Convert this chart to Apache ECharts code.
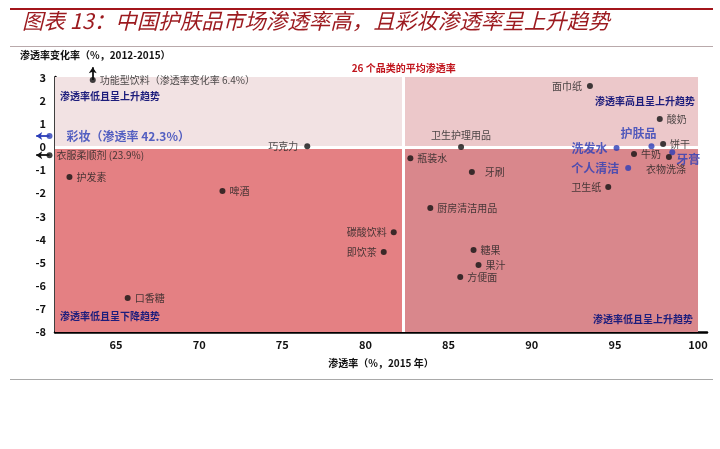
<!DOCTYPE html>
<html>
<head>
<meta charset="utf-8">
<title>中国护肤品市场渗透率</title>
<script src="https://cdn.jsdelivr.net/npm/echarts@6/dist/echarts.min.js"></script>
<style>
    html, body { margin: 0; padding: 0; background: #fff; }
    #penetration_chart { width: 720px; height: 449px; }
</style>
</head>
<body>
<div id="penetration_chart"></div>
<script>

// Chart data
// ------------------------------

var categories = [
    '功能型饮料', '彩妆', '衣服柔顺剂', '巧克力', '护发素', '啤酒', '口香糖',
    '碳酸饮料', '即饮茶', '厨房清洁用品', '糖果', '果汁', '方便面',
    '面巾纸', '卫生护理用品', '瓶装水', '牙刷', '卫生纸', '酸奶', '护肤品',
    '饼干', '洗发水', '牛奶', '牙膏', '衣物洗涤', '个人清洁'
];

// Penetration 2015 (%), as plotted (off-scale items sit at the edge)
var penetration2015 = [
    63.6, 61.0, 61.0, 76.5, 62.2, 71.4, 65.7,
    81.7, 81.1, 83.9, 86.5, 86.8, 85.7,
    93.5, 85.75, 82.7, 86.4, 94.6, 97.7, 97.2,
    97.9, 95.1, 96.15, 98.45, 98.25, 95.8
];

// Penetration change 2012-2015 (%)
var penetrationChange = [
    2.9, 0.48, -0.35, 0.04, -1.3, -1.9, -6.53,
    -3.68, -4.54, -2.64, -4.45, -5.1, -5.62,
    2.64, 0.0, -0.48, -1.08, -1.73, 1.21, 0.04,
    0.13, -0.04, -0.3, -0.22, -0.43, -0.91
];

var highlighted = ['彩妆', '护肤品', '洗发水', '个人清洁', '牙膏'];
var averagePenetration = 82.3;

var xTicks = [65, 70, 75, 80, 85, 90, 95, 100];
var yTicks = [-8, -7, -6, -5, -4, -3, -2, -1, 0, 1, 2, 3];

var labelText = {
    '功能型饮料': '功能型饮料（渗透率变化率 6.4%）',
    '彩妆': '彩妆（渗透率 42.3%）',
    '衣服柔顺剂': '衣服柔顺剂 (23.9%)'
};

// Off-scale markers: arrow tips
var offScaleArrows = [
    {name: '功能型饮料', to: [63.6, 3.45], color: '#111'},
    {name: '彩妆', to: [60.2, 0.48], color: '#2b3db8'},
    {name: '衣服柔顺剂', to: [60.2, -0.35], color: '#111'}
];


// Setup module
// ------------------------------

var EchartsPenetrationScatter = function() {

    // Label placement per category
    var labelPlace = {
        '彩妆': {position: 'right', offset: [10, 0]},
        '巧克力': {position: 'left', offset: [-2, 0]},
        '碳酸饮料': {position: 'left'},
        '即饮茶': {position: 'left'},
        '面巾纸': {position: 'left', offset: [-1, 0]},
        '卫生护理用品': {position: 'top'},
        '牙刷': {position: 'right', offset: [6, 0]},
        '卫生纸': {position: 'left'},
        '护肤品': {position: 'top', offset: [-13, 0]},
        '洗发水': {position: 'left', offset: [-2, 0]},
        '牙膏': {position: 'right', offset: [-3, 7]},
        '衣物洗涤': {position: 'bottom', offset: [-3, 0]},
        '个人清洁': {position: 'left', offset: [-2, 0]}
    };

    var _penetrationScatter = function() {
        if (typeof echarts == 'undefined') {
            console.warn('Warning - echarts.min.js is not loaded.');
            return;
        }

        var element = document.getElementById('penetration_chart');
        if (!element) return;

        var chart = echarts.init(element);
        var font = '"Noto Sans CJK SC", "Noto Sans", sans-serif';
        var blue = '#2b3db8';
        var navy = '#1d1d7c';

        // Build points
        var points = categories.map(function(name, i) {
            var isBlue = highlighted.indexOf(name) > -1;
            var place = labelPlace[name] || {position: 'right'};
            return {
                name: name,
                value: [penetration2015[i], penetrationChange[i]],
                itemStyle: {color: isBlue ? blue : '#111'},
                label: {
                    show: true,
                    formatter: labelText[name] || name,
                    position: place.position,
                    offset: place.offset || [0, 0],
                    distance: 4,
                    color: isBlue ? blue : '#222',
                    fontSize: isBlue ? 12 : 10,
                    fontWeight: isBlue ? 'bold' : 'normal'
                }
            };
        });

        // Arrows for off-scale items
        var arrowLines = offScaleArrows.map(function(a) {
            var i = categories.indexOf(a.name);
            return {
                coords: [[penetration2015[i], penetrationChange[i]], a.to],
                lineStyle: {color: a.color}
            };
        });

        var xMax = 100;
        var yMax = 3.03;
        var xMin = 61.33;
        var yMin = -8;

        chart.setOption({
            animation: false,
            textStyle: {fontFamily: font},

            graphic: [
                {type: 'rect', shape: {x: 10, y: 8, width: 703, height: 2}, style: {fill: '#a3151b'}},
                {type: 'rect', shape: {x: 10, y: 46, width: 703, height: 1}, style: {fill: '#b9a9ab'}},
                {type: 'rect', shape: {x: 10, y: 379, width: 703, height: 1}, style: {fill: '#a9a9a9'}},
                {
                    type: 'text', left: 22, top: 10,
                    style: {
                        text: '图表 13：中国护肤品市场渗透率高，且彩妆渗透率呈上升趋势',
                        fill: '#9c1a1f', font: 'italic 21.5px ' + font
                    }
                }
            ],

            grid: {left: 55, right: 13, top: 77, bottom: 117, outerBoundsMode: 'none', containLabel: false},

            xAxis: {
                type: 'value',
                min: xMin,
                max: 100.54,
                name: '渗透率（%，2015 年）',
                nameLocation: 'middle',
                nameGap: 26,
                nameTextStyle: {color: '#111', fontSize: 10, fontWeight: 'bold'},
                axisLine: {onZero: false, lineStyle: {color: '#000', width: 2.5}},
                axisTick: {show: false},
                splitLine: {show: false},
                axisLabel: {
                    customValues: xTicks,
                    color: '#111', fontSize: 11, fontWeight: 'bold', margin: 7
                }
            },

            yAxis: {
                type: 'value',
                min: yMin,
                max: yMax,
                name: '渗透率变化率（%，2012-2015）',
                nameLocation: 'end',
                nameGap: 17,
                nameTextStyle: {color: '#111', fontSize: 10, fontWeight: 'bold', align: 'left', padding: [0, 0, 0, -35]},
                axisLine: {onZero: false, lineStyle: {color: '#000', width: 2.5}},
                axisTick: {show: false},
                splitLine: {show: false},
                axisLabel: {
                    customValues: yTicks,
                    color: '#111', fontSize: 11, fontWeight: 'bold', margin: 9
                }
            },

            series: [
                // Quadrant backgrounds and dividers
                {
                    type: 'scatter',
                    data: [],
                    z: 1,
                    markArea: {
                        silent: true,
                        z: 1,
                        label: {fontSize: 10, fontWeight: 'bold', color: navy, distance: 5},
                        data: [
                            [{coord: [xMin, 0], itemStyle: {color: '#f2e2e3'},
                              label: {position: 'insideTopLeft', offset: [0, 9]}, name: '渗透率低且呈上升趋势'},
                             {coord: [averagePenetration, yMax]}],
                            [{coord: [averagePenetration, 0], itemStyle: {color: '#ecc8ca'},
                              label: {position: 'insideTopRight', offset: [2, 14]}, name: '渗透率高且呈上升趋势'},
                             {coord: [xMax, yMax]}],
                            [{coord: [xMin, yMin], itemStyle: {color: '#e48083'},
                              label: {position: 'insideBottomLeft', offset: [0, -6]}, name: '渗透率低且呈下降趋势'},
                             {coord: [averagePenetration, 0]}],
                            [{coord: [averagePenetration, yMin], itemStyle: {color: '#d9878c'},
                              label: {position: 'insideBottomRight', offset: [0, -3]}, name: '渗透率低且呈上升趋势'},
                             {coord: [xMax, 0]}]
                        ]
                    },
                    markLine: {
                        silent: true,
                        z: 1,
                        symbol: 'none',
                        lineStyle: {color: '#fff', width: 3, type: 'solid'},
                        data: [
                            [{coord: [averagePenetration, yMin],
                              label: {show: true, position: 'end', formatter: '26 个品类的平均渗透率',
                                      color: '#c0141c', fontSize: 10, fontWeight: 'bold', distance: 4}},
                             {coord: [averagePenetration, yMax]}],
                            [{coord: [xMin, 0], label: {show: false}}, {coord: [xMax, 0]}]
                        ]
                    }
                },

                // Categories
                {
                    type: 'scatter',
                    z: 3,
                    clip: false,
                    symbolSize: 6,
                    data: points
                },

                // Off-scale arrows
                {
                    type: 'lines',
                    coordinateSystem: 'cartesian2d',
                    z: 2,
                    clip: false,
                    silent: true,
                    symbol: ['none', 'arrow'],
                    symbolSize: 6,
                    lineStyle: {width: 1.8, opacity: 1},
                    data: arrowLines
                }
            ]
        });
    };

    return {
        init: function() {
            _penetrationScatter();
        }
    }
}();


// Initialize module
// ------------------------------

document.addEventListener('DOMContentLoaded', function() {
    EchartsPenetrationScatter.init();
});
</script>
</body>
</html>
